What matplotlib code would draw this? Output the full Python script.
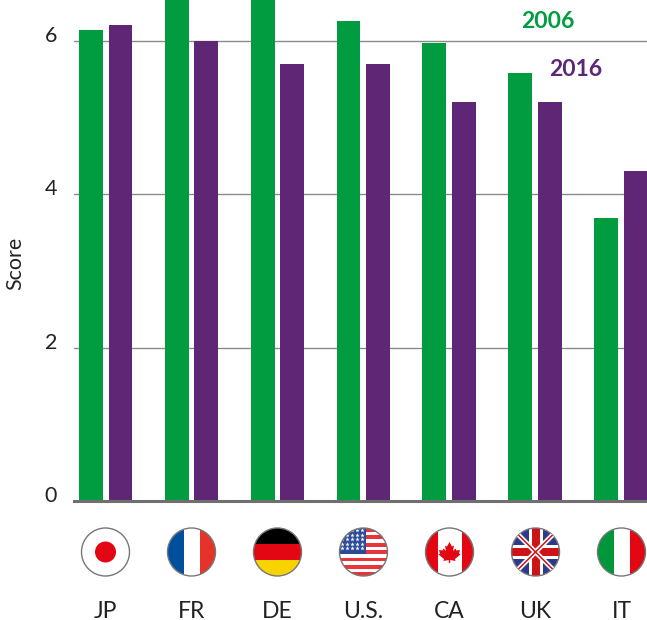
import numpy as np
import matplotlib.pyplot as plt
from matplotlib.patches import Circle, Rectangle, Polygon

plt.rcParams['font.family'] = ['Lato', 'DejaVu Sans']

countries = ['JP', 'FR', 'DE', 'U.S.', 'CA', 'UK', 'IT']
score_2006 = [6.14, 6.7, 6.7, 6.25, 5.97, 5.58, 3.69]
score_2016 = [6.2, 6.0, 5.69, 5.69, 5.2, 5.2, 4.3]
yticks = [0, 2, 4, 6]

GREEN = '#009c3f'
PURPLE = '#5f2675'
W, H = 647, 620

fig = plt.figure(figsize=(W / 100, H / 100), dpi=100)

# main chart
ax = fig.add_axes([74 / W, (H - 501) / H, 573 / W, 501 / H])
x = np.arange(len(countries))
ax.bar(x - 0.169, score_2006, 0.279, color=GREEN, zorder=3)
ax.bar(x + 0.175, score_2016, 0.279, color=PURPLE, zorder=3)
ax.set_xlim(-0.367, 6.309)
ax.set_ylim(0, 6.528)
ax.set_yticks(yticks)
ax.set_xticks([])
ax.set_yticklabels([])
ax.tick_params(left=False)
ax.grid(axis='y', color='#8a8a8a', lw=1, zorder=1)
for s in ['top', 'right', 'left']:
    ax.spines[s].set_visible(False)
ax.spines['bottom'].set_color('#6f6f6f')
ax.spines['bottom'].set_linewidth(2.2)
ax.spines['bottom'].set_zorder(4)
for t in yticks:
    ax.annotate(str(t), (0, t), xycoords=('axes fraction', 'data'), xytext=(-17, 5),
                textcoords='offset pixels', ha='right', va='center', fontsize=15.5, color='#222222')

# overlay in pixel coords for flags and labels
ov = fig.add_axes([0, 0, 1, 1], zorder=5)
ov.set_xlim(0, W)
ov.set_ylim(H, 0)
ov.axis('off')
ov.patch.set_alpha(0)

ov.text(15.5, 263, 'Score', rotation=90, ha='center', va='center', fontsize=15.5, color='#222222')
ov.text(548, 21, '2006', color=GREEN, fontweight='bold', ha='center', va='center', fontsize=16.5)
ov.text(575.5, 70, '2016', color=PURPLE, fontweight='bold', ha='center', va='center', fontsize=16.5)

centers = [105.5 + 86 * i for i in range(len(countries))]
cy = 552
r = 24


def box(x0, x1, y0, y1, color, clip):
    p = Rectangle((x0, y0), x1 - x0, y1 - y0, color=color, lw=0)
    ov.add_patch(p)
    p.set_clip_path(clip)


def line(xs, ys, color, lw, clip):
    l, = ov.plot(xs, ys, color=color, lw=lw, solid_capstyle='butt')
    l.set_clip_path(clip)


for cx, name in zip(centers, countries):
    clip = Circle((cx, cy), r, transform=ov.transData)
    l, rt, t, b = cx - r, cx + r, cy - r, cy + r
    box(l, rt, t, b, 'white', clip)
    if name == 'JP':
        ov.add_patch(Circle((cx, cy), 10.5, color='#e30613', lw=0))
    elif name == 'FR':
        box(l, cx - 8, t, b, '#004f9f', clip)
        box(cx + 8, rt, t, b, '#e6332a', clip)
    elif name == 'DE':
        box(l, rt, t, cy - 8, '#000000', clip)
        box(l, rt, cy - 8, cy + 8, '#e30613', clip)
        box(l, rt, cy + 8, b, '#f7d300', clip)
    elif name == 'U.S.':
        for i in range(7):
            sy = t + i * 7.4
            box(l, rt, sy, sy + 3.7, '#e8343a', clip)
        box(l, cx + 2, t, cy + 2, '#2a4a95', clip)
        sx, sy = np.meshgrid(np.arange(l + 2, cx + 1, 5), np.arange(t + 2, cy + 1, 4.6))
        pts = ov.scatter(sx.ravel(), sy.ravel(), s=11, color='white', marker='*', lw=0)
        pts.set_clip_path(clip)
    elif name == 'CA':
        box(l, cx - 12, t, b, '#e30613', clip)
        box(cx + 12, rt, t, b, '#e30613', clip)
        leaf = np.array([(0, -10), (2.5, -5.5), (4.5, -6.5), (3.5, -1), (6, -3.5), (7, -1.5),
                         (10.5, -2), (9.5, 1.5), (11, 2.5), (5.5, 7), (6, 9), (0.7, 8),
                         (0.7, 11), (-0.7, 11), (-0.7, 8), (-6, 9), (-5.5, 7), (-11, 2.5),
                         (-9.5, 1.5), (-10.5, -2), (-7, -1.5), (-6, -3.5), (-3.5, -1),
                         (-4.5, -6.5), (-2.5, -5.5)])
        ov.add_patch(Polygon(leaf + [cx, cy], closed=True, color='#e30613', lw=0))
    elif name == 'UK':
        box(l, rt, t, b, '#2a3a8c', clip)
        line([l, rt], [t, b], 'white', 3.5, clip)
        line([l, rt], [b, t], 'white', 3.5, clip)
        line([l, rt], [t, b], '#cc1417', 1.1, clip)
        line([l, rt], [b, t], '#cc1417', 1.1, clip)
        box(cx - 7, cx + 7, t, b, 'white', clip)
        box(l, rt, cy - 7, cy + 7, 'white', clip)
        box(cx - 4, cx + 4, t, b, '#cc1417', clip)
        box(l, rt, cy - 4, cy + 4, '#cc1417', clip)
    elif name == 'IT':
        box(l, cx - 8, t, b, '#009639', clip)
        box(cx + 8, rt, t, b, '#e30613', clip)
    ov.add_patch(Circle((cx, cy), r, fill=False, ec='#777777', lw=1))
    ov.text(cx, 611, name, ha='center', va='center', fontsize=16.5, color='#222222')

fig.savefig('out.png', dpi=100)
